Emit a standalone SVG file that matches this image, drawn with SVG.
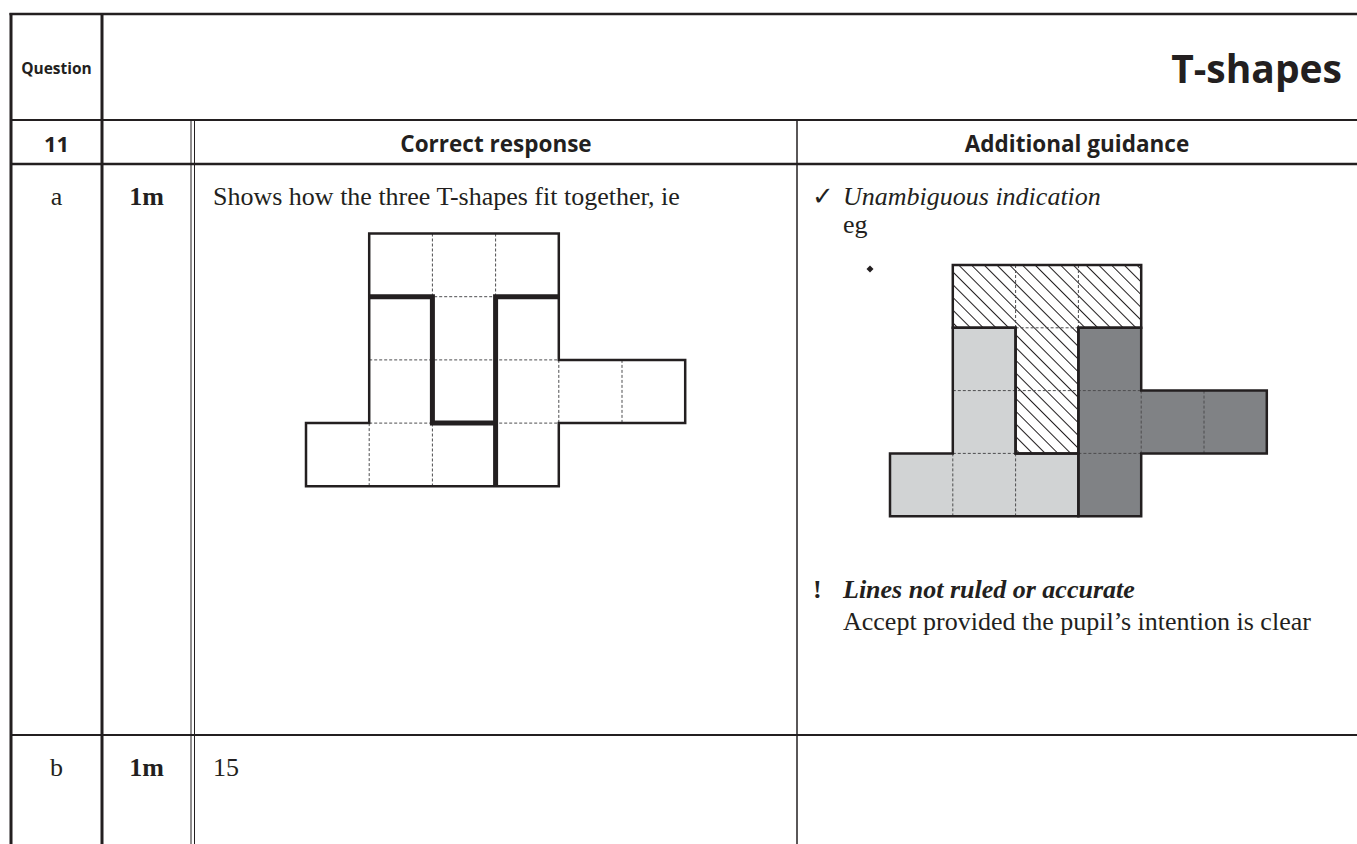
<svg xmlns="http://www.w3.org/2000/svg" width="1357" height="844" viewBox="0 0 1357 844">
<style>
.bg{fill:#ffffff}
.rule{stroke:#231f20;fill:none}
.sans{font-family:"Open Sans","Liberation Sans",sans-serif;font-weight:bold;fill:#231f20}
.serif{font-family:"Liberation Serif","DejaVu Serif",serif;fill:#231f20;font-size:26px}
.dash{stroke:#4d4d4f;stroke-width:1;stroke-dasharray:3 2;fill:none}
.outline{stroke:#231f20;stroke-width:2.5;fill:none;stroke-linejoin:miter}
.thick{stroke:#231f20;stroke-width:5;fill:none;stroke-linejoin:miter}
</style>
<defs>
<pattern id="hatch" patternUnits="userSpaceOnUse" width="9" height="9" patternTransform="rotate(45)">
<rect width="9" height="9" fill="#ffffff"/>
<line x1="0" y1="4.5" x2="9" y2="4.5" stroke="#231f20" stroke-width="1"/>
</pattern>
</defs>
<rect class="bg" x="0" y="0" width="1357" height="844"/>

<g id="table">
<line class="rule" x1="9.5" y1="14" x2="1357" y2="14" stroke-width="2.5"/>
<line class="rule" x1="11" y1="120" x2="1357" y2="120" stroke-width="2"/>
<line class="rule" x1="11" y1="164" x2="1357" y2="164" stroke-width="2.5"/>
<line class="rule" x1="11" y1="735" x2="1357" y2="735" stroke-width="2"/>
<line class="rule" x1="11" y1="13" x2="11" y2="844" stroke-width="3"/>
<line class="rule" x1="102" y1="13" x2="102" y2="844" stroke-width="3"/>
<line class="rule" x1="191" y1="120" x2="191" y2="844" stroke-width="1"/>
<line class="rule" x1="194.5" y1="120" x2="194.5" y2="844" stroke-width="1"/>
<line class="rule" x1="797" y1="120" x2="797" y2="844" stroke-width="1.5"/>
</g>

<g id="header">
<text class="sans" x="56.5" y="74" font-size="15.5" text-anchor="middle">Question</text>
<text class="sans" x="1342" y="83" font-size="39" text-anchor="end">T-shapes</text>
<text class="sans" x="56.5" y="152" font-size="22" text-anchor="middle">11</text>
<text class="sans" x="496" y="152" font-size="22.5" text-anchor="middle">Correct response</text>
<text class="sans" x="1077" y="152" font-size="22.5" text-anchor="middle">Additional guidance</text>
</g>

<g id="row-a">
<text class="serif" x="56.5" y="205" text-anchor="middle">a</text>
<text class="serif" x="146.5" y="205" text-anchor="middle" font-weight="bold">1m</text>
<text class="serif" x="213" y="205">Shows how the three T-shapes fit together, ie</text>
<text x="812" y="205" font-family="DejaVu Sans, sans-serif" font-size="26" fill="#231f20">✓</text>
<text class="serif" x="843" y="205" font-style="italic">Unambiguous indication</text>
<text class="serif" x="843" y="233">eg</text>
<polygon points="870,265.5 873.5,269 870,272.5 866.5,269" fill="#231f20"/>
<text class="serif" x="813" y="598" font-weight="bold">!</text>
<text class="serif" x="843" y="598" font-weight="bold" font-style="italic">Lines not ruled or accurate</text>
<text class="serif" x="843" y="630">Accept provided the pupil’s intention is clear</text>
</g>

<g id="answer-grid">
<path class="dash" d="M432.4 233.5V486.3M495.6 233.5V296.7M369.2 423.1V486.3M558.8 359.9V423.1M622 359.9V423.1M369.2 296.7H558.8M369.2 359.9H558.8M369.2 423.1H558.8"/>
<path class="outline" d="M369.2 233.5H558.8V359.9H685.2V423.1H558.8V486.3H306V423.1H369.2Z"/>
<path class="thick" d="M369.2 296.7H432.4V423.1H495.6V486.3M558.8 296.7H495.6V423.1"/>
</g>

<g id="example-grid">
<path d="M952.8 265H1141.2V327.8H1078.4V453.4H1015.6V327.8H952.8Z" fill="url(#hatch)"/>
<path d="M952.8 327.8H1015.6V453.4H1078.4V516.2H890V453.4H952.8Z" fill="#d1d3d4"/>
<path d="M1078.4 327.8H1141.2V390.6H1266.8V453.4H1141.2V516.2H1078.4Z" fill="#808285"/>
<path class="dash" d="M1015.6 265V327.8M1078.4 265V327.8M1015.6 327.8H1078.4M952.8 390.6H1141.2M952.8 453.4H1015.6M1078.4 453.4H1141.2M952.8 453.4V516.2M1015.6 453.4V516.2M1141.2 390.6V453.4M1204 390.6V453.4"/>
<path class="outline" d="M952.8 265H1141.2V327.8H1078.4V453.4H1015.6V327.8H952.8Z"/>
<path class="outline" d="M952.8 327.8H1015.6V453.4H1078.4V516.2H890V453.4H952.8Z"/>
<path class="outline" d="M1078.4 327.8H1141.2V390.6H1266.8V453.4H1141.2V516.2H1078.4Z"/>
</g>

<g id="row-b">
<text class="serif" x="56.5" y="776" text-anchor="middle">b</text>
<text class="serif" x="146.5" y="776" text-anchor="middle" font-weight="bold">1m</text>
<text class="serif" x="213" y="776">15</text>
</g>
</svg>
